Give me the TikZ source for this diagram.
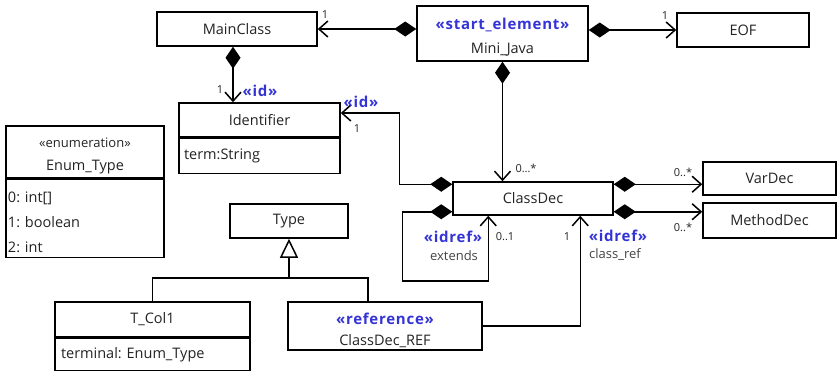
\documentclass[tikz,border=0pt]{standalone}
\usepackage{fontspec}
\setmainfont{Open Sans}
\newfontfamily\stfont{Open Sans}[LetterSpace=5]
\usetikzlibrary{arrows.meta,positioning}

\definecolor{stereo}{RGB}{52,52,214}
\definecolor{ink}{RGB}{35,35,35}

\begin{document}
\frenchspacing
\begin{tikzpicture}[x=1pt, y=-1pt, line width=1.5pt, text=ink,
  font=\fontsize{14.5}{17}\selectfont,
  box/.style={draw, rectangle, inner sep=0pt, align=center},
  attr/.style={draw, rectangle, inner xsep=#1, inner ysep=0pt, align=left},
  st/.style={text=stereo, font=\fontsize{15}{17}\selectfont\stfont\bfseries, inner sep=0pt},
  mult/.style={font=\fontsize{11}{13}\selectfont, inner sep=0pt},
  role/.style={font=\fontsize{13}{15}\selectfont, inner sep=0pt, text=ink!85},
  comp/.style={draw, {Diamond[length=22pt,width=15pt]}-{Straight Barb[length=9pt,width=16pt]}},
  assoc/.style={draw, -{Straight Barb[length=9pt,width=16pt]}},
  gen/.style={draw, -{Triangle[open, length=19pt, width=18pt]}}]

\useasboundingbox (0,0) rectangle (839,370);

% --- top row ---
\node[box, minimum width=160, minimum height=34] (main) at (237,29) {MainClass};
\node[box, minimum width=171, minimum height=55] (mini) at (502.5,33.5) {};
\node[st] (miniSt) at (502.5,25) {«start\_element»};
\node[inner sep=0pt] (miniName) at (502.5,50) {Mini\_Java};
\node[box, minimum width=132, minimum height=34] (eof) at (743,30) {EOF};

% --- Identifier ---
\node[box, minimum width=161, minimum height=34] (idf) at (259.5,120) {Identifier};
\node[attr=5pt, text width=151, minimum height=35, below=0pt of idf] (idfattr) {term:String};

% --- enumeration ---
\node[box, minimum width=158, minimum height=52] (enum) at (85,152) {};
\node[inner sep=0pt, font=\fontsize{13}{15}\selectfont] (enumSt) at (85,143) {«enumeration»};
\node[inner sep=0pt] (enumName) at (85,167) {Enum\_Type};
\node[attr=2pt, text width=154, minimum height=78, below=0pt of enum,
  font=\fontsize{14.5}{25}\selectfont] (enumlit) {\rule{0pt}{19pt}0: int[]\\1: boolean\\2: int};

% --- ClassDec and members ---
\node[box, minimum width=160, minimum height=33] (cdec) at (533,198.5) {ClassDec};
\node[box, minimum width=133, minimum height=33] (vdec) at (769.5,178.5) {VarDec};
\node[box, minimum width=133, minimum height=35] (mdec) at (769.5,220.5) {MethodDec};

% --- types ---
\node[box, minimum width=118, minimum height=34] (type) at (289,221) {Type};
\node[box, minimum width=195, minimum height=35] (tcol) at (152.5,319.5) {T\_Col1};
\node[attr=6pt, text width=183, minimum height=32, below=0pt of tcol] (tcolattr) {terminal: Enum\_Type};
\node[box, minimum width=194, minimum height=48] (cref) at (385,326) {};
\node[st] (crefSt) at (385,319) {«reference»};
\node[inner sep=0pt] (crefName) at (385,341) {ClassDec\_REF};

% --- connection points ---
\coordinate (cdecL1) at ([yshift=-3pt]cdec.north west);
\coordinate (cdecL2) at ([yshift=4pt]cdec.south west);
\coordinate (cdecR1) at ([yshift=-3pt]cdec.north east);
\coordinate (cdecR2) at ([yshift=4pt]cdec.south east);
\coordinate (extIn) at ([xshift=36pt]cdec.south west);
\coordinate (crefIn) at ([xshift=128pt]cdec.south west);
\coordinate (genJ) at ([yshift=-39pt]type.south);

% --- associations ---
\draw[comp] (main.east -| mini.west) -- (main.east);
\draw[comp] (eof.west -| mini.east) -- (eof.west);
\draw[comp] ([xshift=-4pt]main.south) -- ([xshift=-4pt]main.south |- idf.north);
\draw[comp] (mini.south) -- (mini.south |- cdec.north);
\draw[comp] (cdecL1) -- ++(-53,0) |- ([yshift=7pt]idf.east);
\draw[comp] (cdecL2) -- ++(-50,0) -- ++(0,69) -| (extIn);
\draw[comp] (cdecR1) -- (cdecR1 -| vdec.west);
\draw[comp] (cdecR2) -- (cdecR2 -| mdec.west);
\draw[assoc] (cref.east) -| (crefIn);

% --- generalization ---
\draw (tcol.north) |- (genJ);
\draw ([xshift=-17pt]cref.north) |- (genJ);
\draw[gen] (genJ) -- (type.south);

% --- labels ---
\node[mult] (m1) at (325,15) {1};
\node[mult] (m2) at (665,16) {1};
\node[mult] (m3) at (220,90) {1};
\node[st] (s1) at (260,91) {«id»};
\node[st] (s2) at (361,102) {«id»};
\node[mult] (m4) at (357,129) {1};
\node[mult] (m5) at (526,168) {0…*};
\node[st] (s3) at (453,237) {«idref»};
\node[role] (r1) at (454,256) {extends};
\node[mult] (m6) at (505,237) {0..1};
\node[mult] (m7) at (567,237) {1};
\node[st] (s4) at (618,236) {«idref»};
\node[role] (r2) at (615,255) {class\_ref};
\node[mult] (m8) at (683,172) {0..*};
\node[mult] (m9) at (683,227) {0..*};

\end{tikzpicture}
\end{document}
